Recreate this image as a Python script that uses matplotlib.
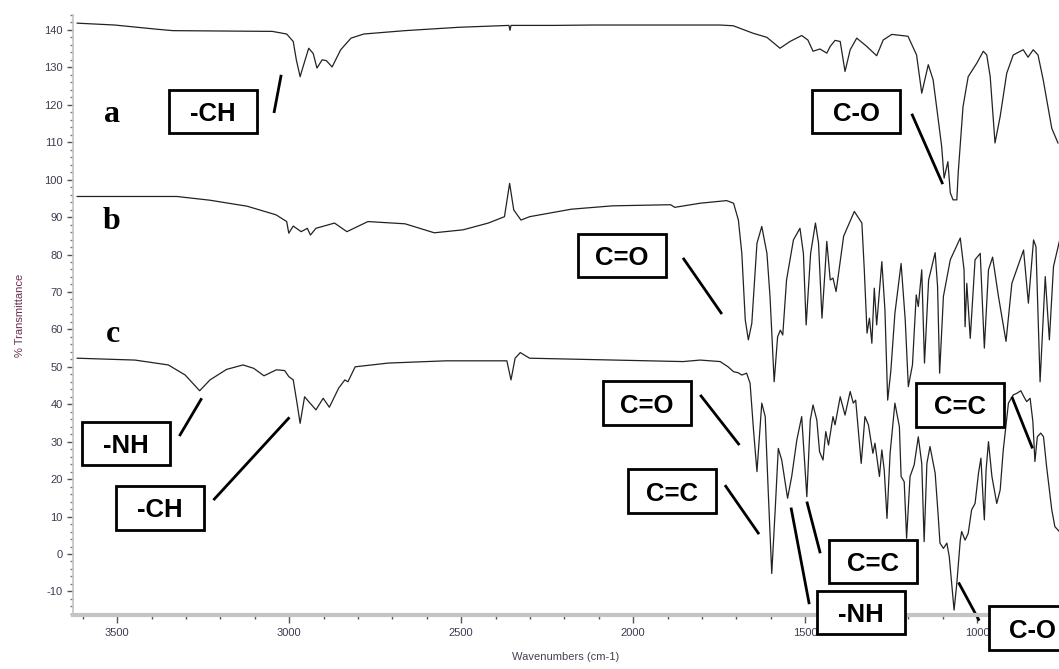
import matplotlib
matplotlib.use("Agg")
import matplotlib.pyplot as plt
from matplotlib.patches import Rectangle
from matplotlib.ticker import MultipleLocator

plt.rcParams["axes.unicode_minus"] = False

# FTIR spectra, wavenumber (cm-1) vs % transmittance, curves offset vertically
wn_a = [3616, 3507, 3387, 3338, 3049, 3007, 2988, 2979, 2968, 2959,
        2943, 2930, 2919, 2904, 2892, 2875, 2850, 2820, 2783, 2663,
        2506, 2361, 2358, 2355, 2230, 2119, 1747, 1709, 1651, 1611,
        1573, 1544, 1510, 1492, 1477, 1457, 1437, 1427, 1413, 1398,
        1384, 1369, 1350, 1321, 1292, 1273, 1248, 1201, 1176, 1161,
        1142, 1128, 1113, 1103, 1096, 1085, 1078, 1070, 1059, 1055,
        1041, 1026, 1001, 982, 972, 962, 948, 933, 914, 895,
        866, 852, 837, 823, 808, 783, 765]
tr_a = [141.8, 141.3, 140.2, 139.8, 139.6, 138.9, 136.9, 132.0, 127.5, 130.3,
        135.1, 133.7, 129.8, 132.0, 131.8, 130.1, 134.7, 137.8, 138.9, 139.8,
        140.7, 141.2, 139.9, 141.2, 141.2, 141.3, 141.3, 141.1, 139.1, 138.0,
        135.1, 136.9, 138.5, 137.3, 134.3, 134.9, 133.8, 135.6, 137.2, 136.9,
        128.9, 134.7, 137.8, 135.6, 133.1, 137.3, 138.8, 138.3, 133.3, 123.1,
        130.7, 126.7, 116.0, 108.8, 100.4, 104.8, 96.5, 94.6, 94.6, 101.8,
        119.5, 127.5, 131.1, 134.3, 133.3, 127.5, 109.8, 116.9, 128.4, 133.3,
        134.7, 132.7, 134.7, 133.3, 126.7, 113.7, 109.8]

wn_b = [3616, 3326, 3230, 3122, 3038, 3007, 3001, 2988, 2965, 2947,
        2938, 2922, 2868, 2832, 2771, 2663, 2578, 2494, 2421, 2374,
        2359, 2347, 2326, 2301, 2180, 2060, 1891, 1879, 1805, 1728,
        1708, 1694, 1684, 1674, 1665, 1655, 1640, 1626, 1611, 1602,
        1590, 1580, 1572, 1565, 1554, 1534, 1515, 1505, 1497, 1484,
        1470, 1461, 1451, 1442, 1437, 1427, 1419, 1410, 1388, 1357,
        1335, 1328, 1320, 1313, 1306, 1299, 1292, 1277, 1268, 1260,
        1251, 1239, 1221, 1209, 1200, 1188, 1177, 1171, 1161, 1153,
        1141, 1122, 1115, 1109, 1098, 1078, 1049, 1038, 1035, 1030,
        1020, 1006, 991, 979, 967, 955, 938, 916, 899, 865,
        851, 836, 829, 817, 802, 790, 778, 761]
tr_b = [95.5, 95.5, 94.5, 92.9, 90.6, 88.8, 85.7, 87.6, 86.1, 87.0,
        85.2, 87.0, 88.4, 86.1, 88.8, 88.2, 85.8, 86.6, 88.4, 90.1,
        99.0, 91.9, 89.2, 90.1, 92.1, 93.0, 93.3, 92.6, 93.7, 94.4,
        93.7, 89.2, 80.3, 62.5, 57.2, 61.6, 83.0, 87.5, 80.3, 68.7,
        46.0, 58.0, 59.8, 58.5, 73.2, 83.9, 87.0, 80.3, 61.2, 80.3,
        88.4, 83.0, 63.0, 75.9, 83.5, 73.2, 73.7, 70.1, 84.9, 91.5,
        88.4, 75.9, 59.0, 63.0, 56.3, 71.0, 61.2, 78.1, 65.2, 41.1,
        48.7, 64.3, 77.6, 62.5, 44.7, 50.5, 69.2, 66.1, 75.9, 51.0,
        73.2, 80.5, 71.5, 48.3, 68.8, 78.6, 84.4, 75.9, 60.7, 72.3,
        57.6, 78.6, 80.3, 55.0, 75.9, 79.3, 68.8, 56.8, 72.3, 81.2,
        67.0, 83.9, 82.1, 46.0, 74.1, 57.2, 76.8, 83.5]

wn_c = [3616, 3448, 3351, 3302, 3260, 3230, 3182, 3134, 3103, 3073,
        3037, 3013, 3001, 2988, 2977, 2968, 2955, 2943, 2922, 2901,
        2883, 2856, 2838, 2829, 2808, 2712, 2544, 2367, 2355, 2343,
        2328, 2301, 2060, 1855, 1805, 1747, 1724, 1708, 1694, 1684,
        1670, 1660, 1650, 1640, 1633, 1626, 1616, 1607, 1597, 1587,
        1578, 1568, 1551, 1539, 1524, 1510, 1503, 1495, 1485, 1477,
        1466, 1458, 1448, 1440, 1432, 1419, 1413, 1398, 1384, 1369,
        1360, 1353, 1337, 1326, 1316, 1303, 1297, 1284, 1277, 1270,
        1262, 1253, 1239, 1226, 1221, 1212, 1205, 1195, 1183, 1171,
        1161, 1154, 1146, 1137, 1122, 1113, 1108, 1098, 1088, 1081,
        1074, 1067, 1059, 1049, 1045, 1035, 1026, 1016, 1006, 996,
        989, 983, 979, 974, 967, 957, 943, 933, 924, 909,
        895, 885, 873, 864, 856, 846, 838, 832, 825, 815,
        807, 798, 783, 774, 761]
tr_c = [52.3, 51.8, 50.5, 47.8, 43.6, 46.5, 49.3, 50.5, 49.6, 47.6,
        49.2, 49.0, 47.4, 46.5, 40.3, 34.9, 42.0, 40.7, 38.5, 41.6,
        39.2, 44.3, 46.5, 46.0, 50.0, 51.0, 51.6, 51.6, 46.5, 52.3,
        53.8, 52.3, 51.8, 51.4, 51.8, 51.4, 50.0, 48.7, 48.4, 47.8,
        48.3, 45.6, 33.1, 22.0, 31.3, 40.3, 36.7, 16.2, -5.2, 11.8,
        28.2, 25.1, 14.9, 20.7, 30.5, 36.7, 26.9, 15.3, 35.8, 39.8,
        35.8, 27.3, 25.1, 32.7, 29.1, 36.7, 34.5, 42.0, 37.1, 43.4,
        40.3, 41.1, 24.2, 36.7, 34.5, 26.9, 29.6, 20.7, 27.8, 22.4,
        9.5, 26.9, 40.3, 34.0, 20.7, 19.3, 4.2, 20.7, 23.8, 31.3,
        24.2, 3.3, 24.2, 28.7, 21.6, 10.0, 2.9, 1.5, 2.9, -0.7,
        -7.8, -15.0, -7.8, 3.7, 6.0, 3.7, 5.5, 11.8, 13.5, 21.6,
        25.6, 15.3, 9.1, 22.4, 30.0, 20.7, 13.5, 17.1, 27.8, 40.3,
        42.5, 42.9, 43.6, 42.0, 40.7, 41.6, 35.4, 24.7, 31.3, 32.3,
        31.3, 23.3, 11.8, 7.3, 6.0]

# sample letters: (label, wavenumber, transmittance)
sample_tags = [("a", 3515, 117.3), ("b", 3515, 88.7), ("c", 3513, 58.5)]

# band assignments: text, box centre, leader line start, leader line end
bands = [
    ("-CH", (3222, 118.2), (3023, 128.0), (3044, 117.8)),
    ("C-O", (1352, 118.2), (1190, 117.6), (1100, 98.8)),
    ("C=O", (2033, 79.8), (1855, 79.1), (1742, 64.1)),
    ("C=O", (1959, 40.3), (1805, 42.5), (1691, 29.1)),
    ("-NH", (3474, 29.5), (3319, 31.5), (3254, 41.6)),
    ("-CH", (3375, 12.3), (3220, 14.4), (2999, 36.5)),
    ("C=C", (1888, 16.8), (1733, 18.4), (1634, 5.3)),
    ("C=C", (1304, -2.0), (1495, 14.0), (1456, 0.2)),
    ("-NH", (1337, -15.6), (1541, 12.4), (1488, -13.4)),
    ("C-O", (838, -19.8), (1054, -7.6), (994, -17.8)),
    ("C=C", (1049, 39.8), (899, 42.0), (839, 28.2)),
]
box_w, box_h = 256, 11.6   # label frame size in data units

fig = plt.figure(figsize=(10.59, 6.69), dpi=100)
ax = fig.add_axes([0.069, 0.0807, 0.931, 0.897])

for wn, tr in [(wn_a, tr_a), (wn_b, tr_b), (wn_c, tr_c)]:
    ax.plot(wn, tr, color="#222222", lw=0.9)

ax.set_xlim(3628, 762)
ax.set_ylim(-16.3, 144)

for tag, x, y in sample_tags:
    ax.text(x, y, tag, fontsize=23, fontweight="bold", family="Liberation Serif",
            ha="center", va="center")

for txt, (bx, by), p0, p1 in bands:
    ax.plot([p0[0], p1[0]], [p0[1], p1[1]], color="black", lw=2, clip_on=False,
            solid_capstyle="butt")
    frame = Rectangle((bx - box_w / 2, by - box_h / 2), box_w, box_h,
                      fc="white", ec="black", lw=2, clip_on=False, zorder=4)
    ax.add_patch(frame)
    ax.text(bx, by, txt, fontsize=18.5, fontweight="bold",
            family="Liberation Sans", ha="center", va="center_baseline",
            clip_on=False, zorder=5)

ax.set_xticks([3500, 3000, 2500, 2000, 1500, 1000])
ax.xaxis.set_minor_locator(MultipleLocator(100))
ax.set_yticks(range(-10, 141, 10))
ax.yaxis.set_minor_locator(MultipleLocator(2))

lab_color = "#3e3a4e"
ax.tick_params(axis="both", which="major", labelsize=8, colors="#555555",
               labelcolor=lab_color, direction="out")
ax.tick_params(axis="x", which="major", length=6, width=1)
ax.tick_params(axis="x", which="minor", length=3, width=1, colors="#555555")
ax.tick_params(axis="y", which="major", length=4, width=1)
ax.tick_params(axis="y", which="minor", length=2, width=1, colors="#777777")

for lbl in ax.get_xticklabels() + ax.get_yticklabels():
    lbl.set_family(["Liberation Sans Narrow", "Liberation Sans"])

for side in ["top", "right"]:
    ax.spines[side].set_visible(False)
ax.spines["bottom"].set_color("#c4c4c4")
ax.spines["bottom"].set_linewidth(3)
ax.spines["left"].set_color("#c4c4c4")
ax.spines["left"].set_linewidth(1.2)

ax.set_xlabel("Wavenumbers (cm-1)", fontsize=8, color="#4a4050", labelpad=10,
              family=["Liberation Sans Narrow", "Liberation Sans"])
ax.set_ylabel("% Transmittance", fontsize=8, color="#6a2e52", labelpad=14,
              family=["Liberation Sans Narrow", "Liberation Sans"])

fig.savefig("out.png", dpi=100)
